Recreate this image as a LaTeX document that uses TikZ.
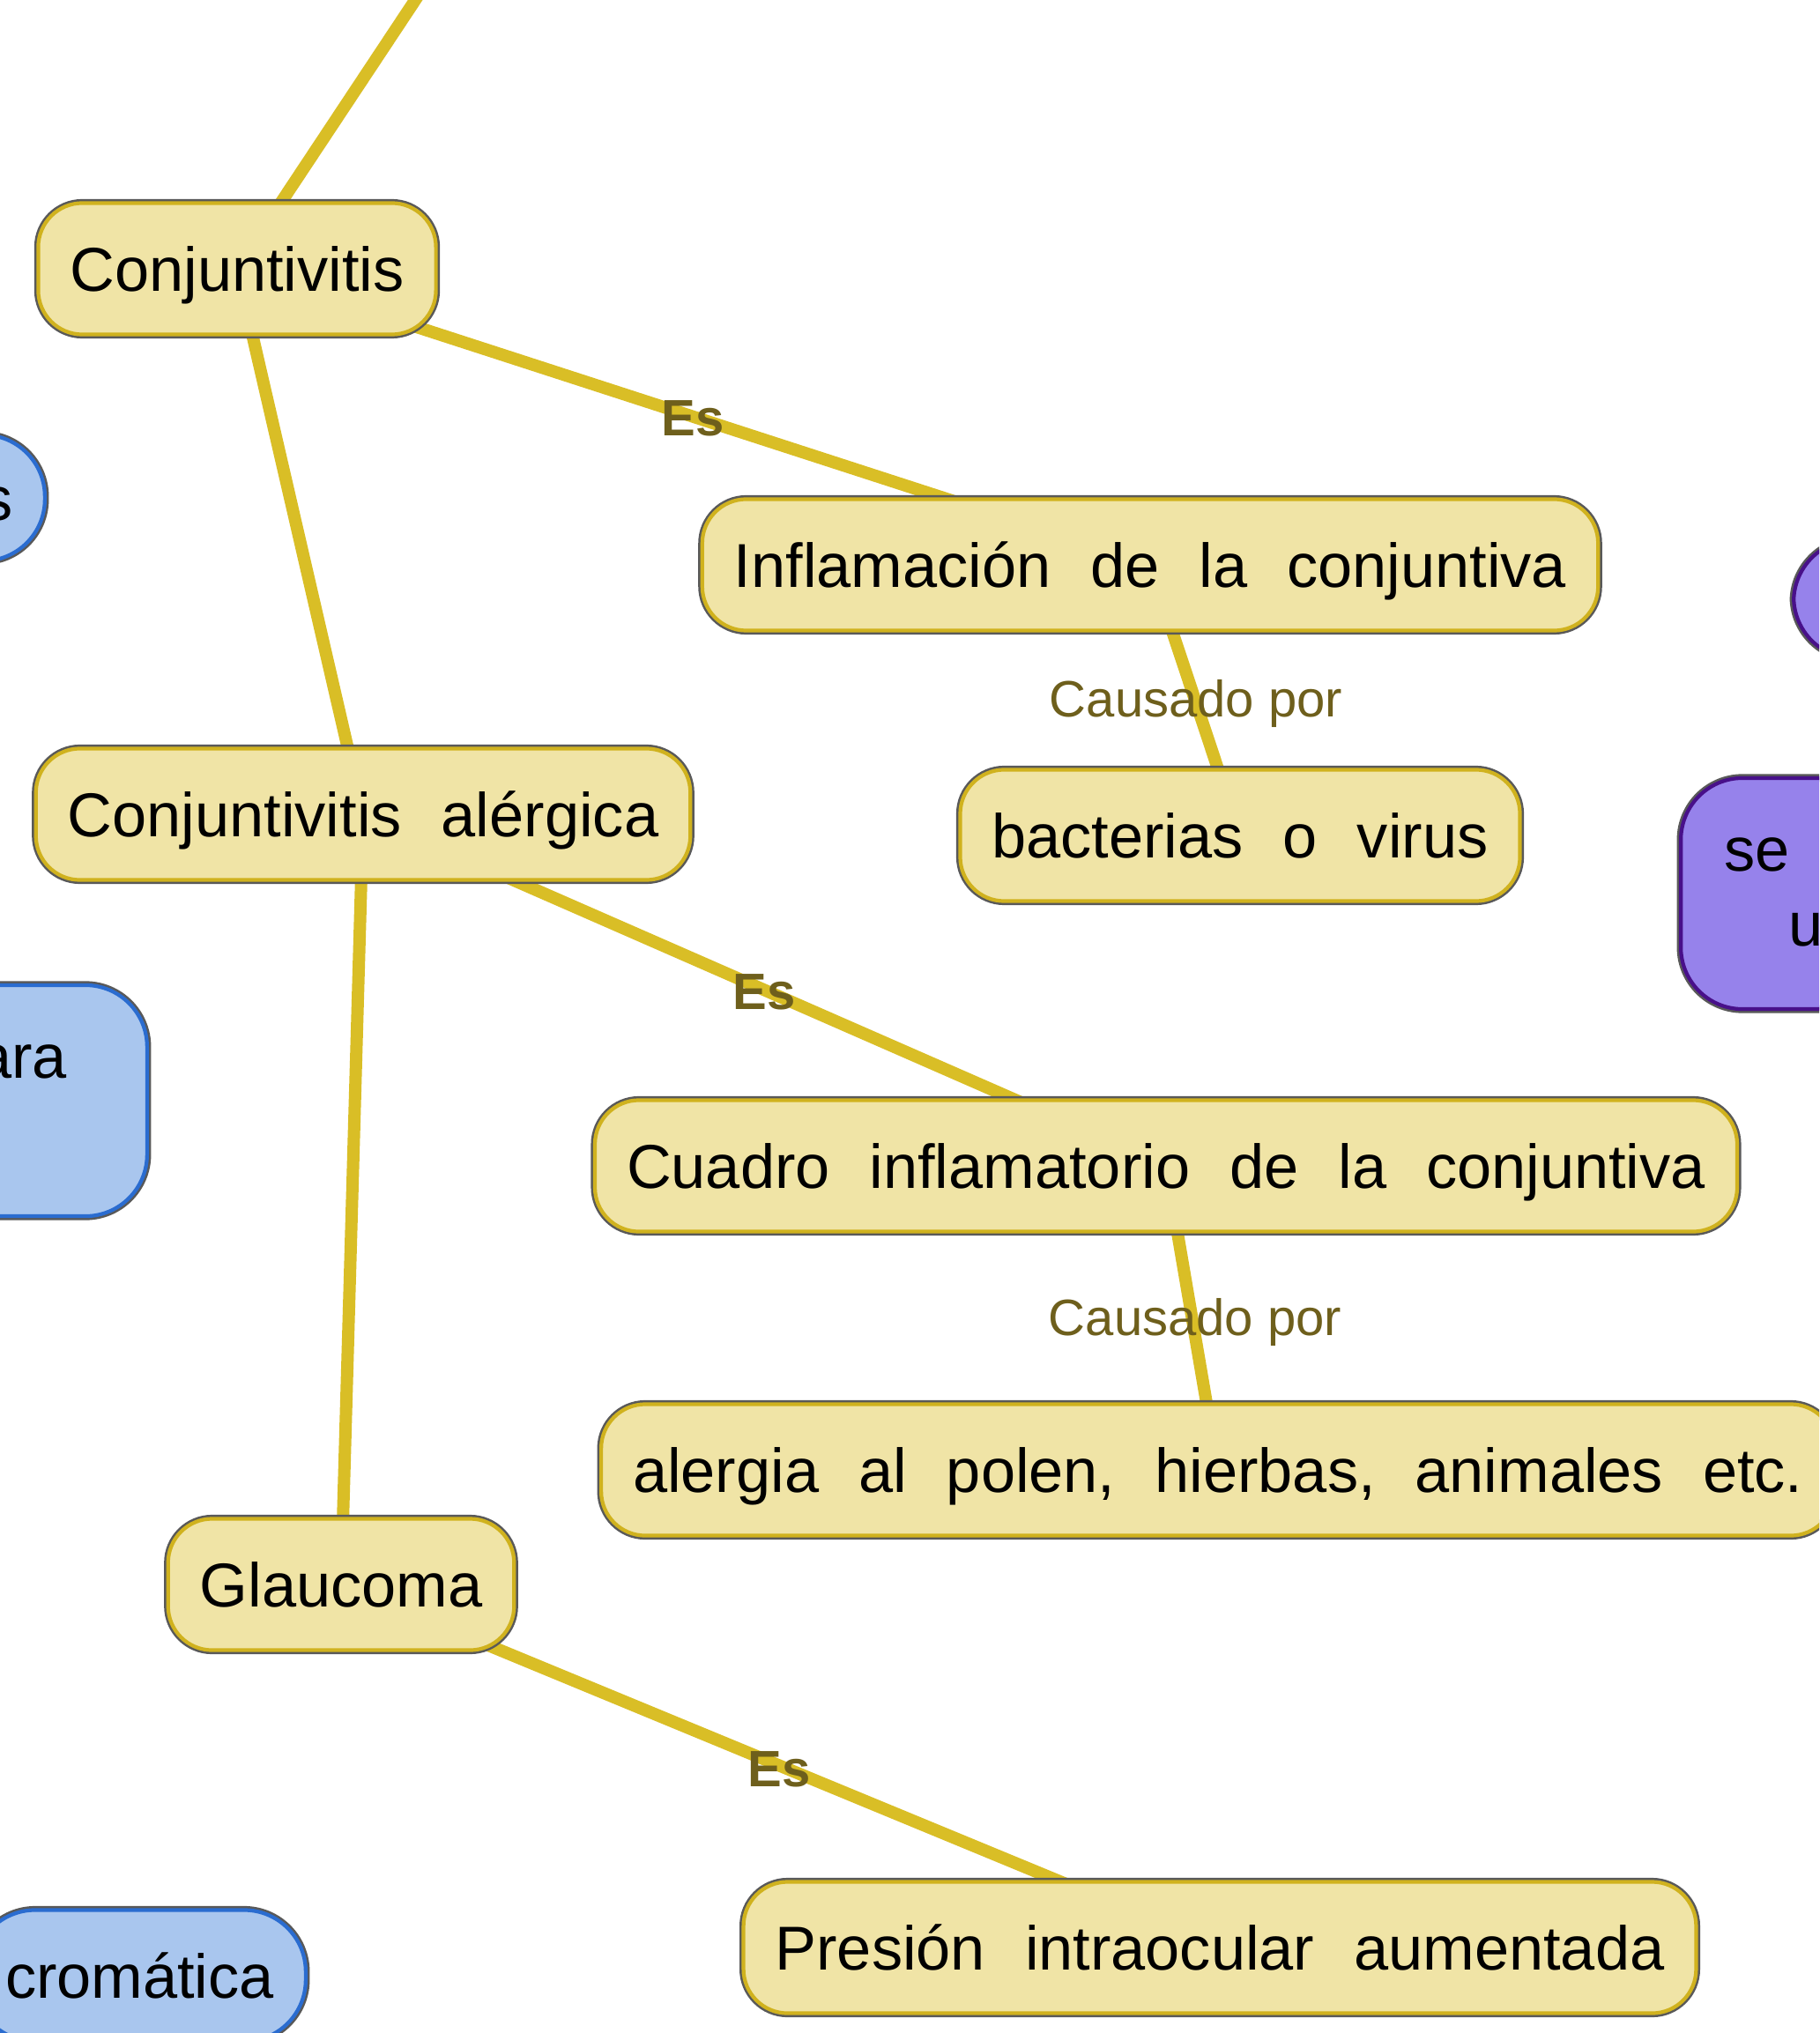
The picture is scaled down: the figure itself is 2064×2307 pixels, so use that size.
\documentclass[tikz,border=0pt]{standalone}
\usepackage{fontspec}
\setmainfont{Liberation Sans}
\definecolor{conceptfill}{RGB}{240,228,166}
\definecolor{conceptline}{RGB}{208,178,30}
\definecolor{linkline}{RGB}{217,190,38}
\definecolor{linktext}{RGB}{110,95,28}
\definecolor{bluefill}{RGB}{169,198,238}
\definecolor{blueline}{RGB}{42,108,208}
\definecolor{purplefill}{RGB}{150,130,235}
\definecolor{purpleline}{RGB}{72,16,138}
\pgfdeclarelayer{background}
\pgfsetlayers{background,main}
\tikzset{
  concept/.style={rectangle,rounded corners=0.5cm,fill=conceptfill,draw=conceptline,line width=1.2pt,
    preaction={draw=black!65,line width=2.6pt},
    minimum height=1.49cm,inner xsep=0.36cm,inner ysep=0pt,text height=14.3pt,text depth=0pt,
    font={\fontsize{20}{24}\selectfont\spaceskip 12.8pt\relax}},
  blueconcept/.style={concept,fill=bluefill,draw=blueline,rounded corners=0.7cm},
  purpleconcept/.style={concept,fill=purplefill,draw=purpleline,rounded corners=0.7cm},
  link/.style={draw=linkline,line width=0.14cm},
  linkphrase/.style={text=linktext,inner sep=0pt,text height=11.8pt,text depth=0pt,
    font=\fontsize{16.5}{20}\selectfont},
  esphrase/.style={linkphrase,font=\fontsize{16.5}{20}\selectfont\bfseries}
}
\begin{document}
\begin{tikzpicture}[x=0.01cm,y=-0.01cm]
\useasboundingbox (0,0) rectangle (2064,2307);
\clip (0,0) rectangle (2064,2307);
\node[concept] (conj) at (269,305) {Conjuntivitis};
\node[concept] (infl) at (1305,641) {Inflamación de la conjuntiva};
\node[concept] (bact) at (1407,948) {bacterias o virus};
\node[concept] (alerg) at (412,924) {Conjuntivitis alérgica};
\node[concept] (cuadro) at (1323,1323) {Cuadro inflamatorio de la conjuntiva};
\node[concept,anchor=west] (polen) at (680,1668) {alergia al polen, hierbas, animales etc.};
\node[concept] (glauc) at (387,1798) {Glaucoma};
\node[concept] (presion) at (1384,2210) {Presión intraocular aumentada};
\node[blueconcept,anchor=east,minimum height=1.43cm,text width=2cm,align=right] (azul1) at (53,565) {s};
\node[blueconcept,anchor=east,minimum height=2.62cm,inner xsep=0.91cm,text width=2cm,align=right,text height={},text depth={}] (azul2) at (169,1249) {ara\strut\\\strut};
\node[blueconcept,anchor=east] (azul3) at (349,2242) {cromática};
\node[purpleconcept,anchor=west,minimum height=1.35cm,minimum width=3cm] (lila1) at (2033,680) {};
\node[purpleconcept,anchor=west,minimum height=2.62cm,inner xsep=0.49cm,text width=2.5cm,align=left,text height={},text depth={}] (lila2) at (1905,1014) {se\strut\\\hspace*{0.73cm}u\strut};
\coordinate (up) at (670,-300);
\begin{pgfonlayer}{background}
\fill[white] (0,0) rectangle (2064,2307);
\draw[link] (conj.center) -- (up);
\draw[link] (conj.center) -- (infl.center);
\draw[link] (infl.center) -- (bact.center);
\draw[link] (conj.center) -- (alerg.center);
\draw[link] (alerg.center) -- (cuadro.center);
\draw[link] (cuadro.center) -- (polen.center);
\draw[link] (alerg.center) -- (glauc.center);
\draw[link] (glauc.center) -- (presion.center);
\end{pgfonlayer}
\node[esphrase] (es1) at (786,474) {Es};
\node[linkphrase] (causa1) at (1357,793) {Causado por};
\node[esphrase] (es2) at (867,1125) {Es};
\node[linkphrase] (causa2) at (1356,1495) {Causado por};
\node[esphrase] (es3) at (884,2007) {Es};
\end{tikzpicture}
\end{document}
